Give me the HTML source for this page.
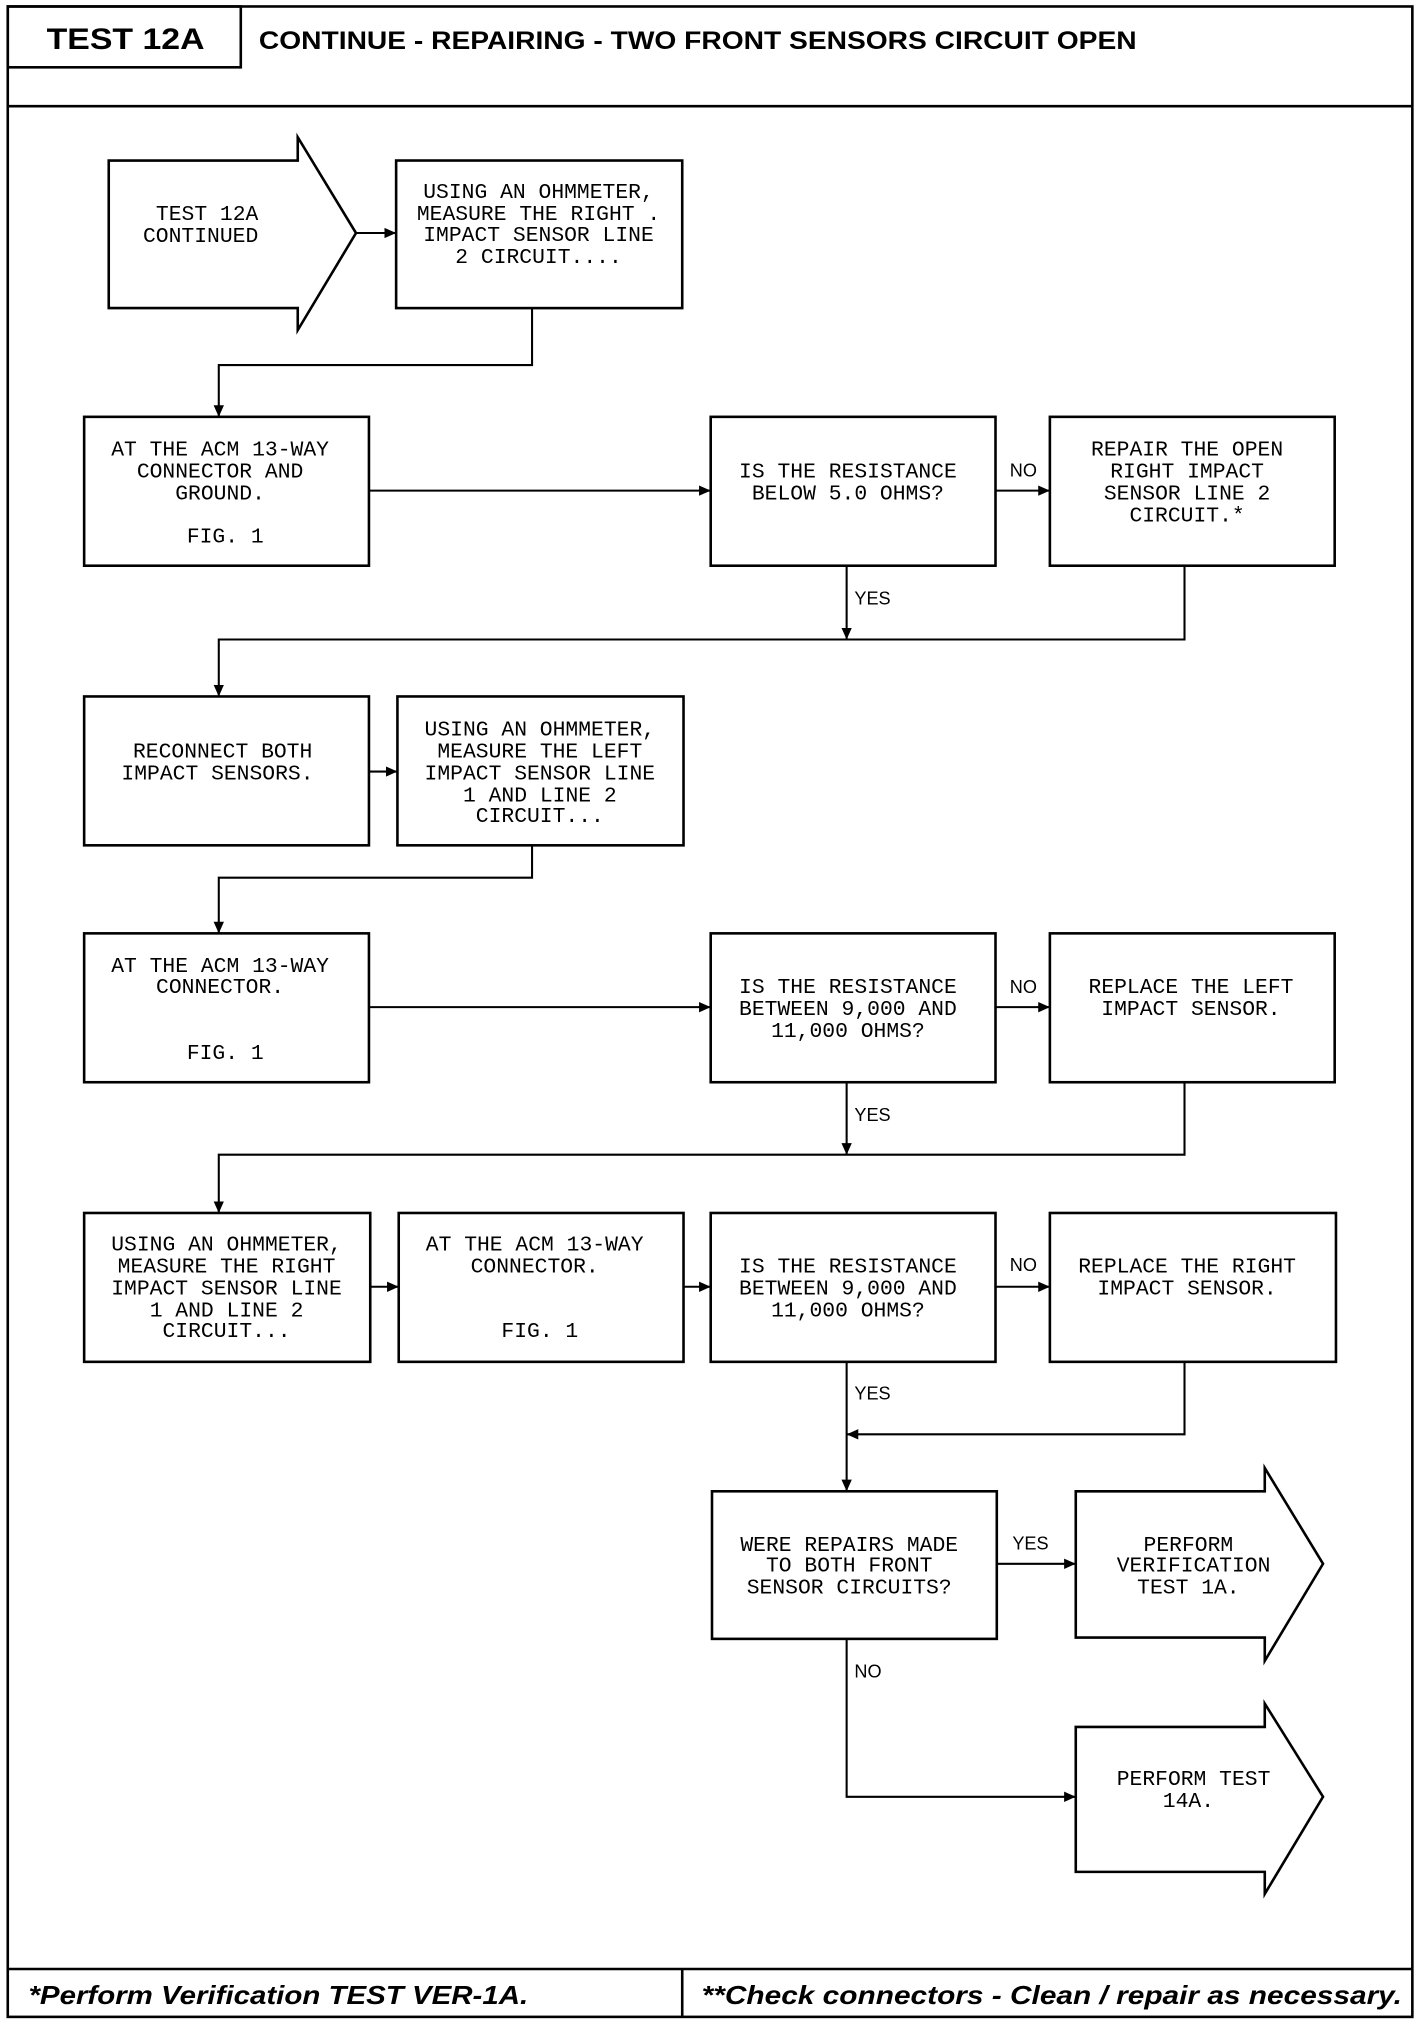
<!DOCTYPE html>
<html><head><meta charset="utf-8"><style>
html,body{margin:0;padding:0;background:#fff}
svg{display:block}
.t{font-family:"Liberation Mono",monospace;font-size:16.5px;text-anchor:middle;fill:#000}
.l{font-family:"Liberation Sans",sans-serif;font-size:14px;fill:#000}
</style></head><body>
<svg width="1424" height="2024" viewBox="0 0 1100 1563.5" preserveAspectRatio="none" xmlns="http://www.w3.org/2000/svg">
<defs><marker id="a" markerWidth="10" markerHeight="10" refX="9" refY="5" orient="auto" markerUnits="userSpaceOnUse"><path d="M0,1 L9,5 L0,9 Z" fill="#000"/></marker></defs>
<g fill="none" stroke="#000" stroke-width="2">
<rect x="6" y="5" width="1085" height="1553"/>
<rect x="6" y="5" width="180" height="47"/>
<line x1="6" y1="82" x2="1091" y2="82"/>
<line x1="6" y1="1521" x2="1091" y2="1521"/>
<line x1="527" y1="1521" x2="527" y2="1558"/>
<polygon points="84,124 230,124 230,106 275,180 230,255 230,238 84,238"/>
<rect x="306" y="124" width="221" height="114"/>
<rect x="65" y="322" width="220" height="115"/>
<rect x="549" y="322" width="220" height="115"/>
<rect x="811" y="322" width="220" height="115"/>
<rect x="65" y="538" width="220" height="115"/>
<rect x="307" y="538" width="221" height="115"/>
<rect x="65" y="721" width="220" height="115"/>
<rect x="549" y="721" width="220" height="115"/>
<rect x="811" y="721" width="220" height="115"/>
<rect x="65" y="937" width="221" height="115"/>
<rect x="308" y="937" width="220" height="115"/>
<rect x="549" y="937" width="220" height="115"/>
<rect x="811" y="937" width="221" height="115"/>
<rect x="550" y="1152" width="220" height="114"/>
<polygon points="831,1152 977,1152 977,1134 1022,1208 977,1283 977,1265 831,1265"/>
<polygon points="831,1334 977,1334 977,1316 1022,1388 977,1463 977,1446 831,1446"/>
</g>
<g fill="none" stroke="#000" stroke-width="1.6" marker-end="url(#a)">
<line x1="275" y1="180" x2="306" y2="180"/>
<polyline points="411,238 411,282 169,282 169,322"/>
<line x1="285" y1="379" x2="549" y2="379"/>
<line x1="769" y1="379" x2="811" y2="379"/>
<line x1="654" y1="437" x2="654" y2="494"/>
<polyline points="915,437 915,494 169,494 169,538"/>
<line x1="285" y1="596" x2="307" y2="596"/>
<polyline points="411,653 411,678 169,678 169,721"/>
<line x1="285" y1="778" x2="549" y2="778"/>
<line x1="769" y1="778" x2="811" y2="778"/>
<line x1="654" y1="836" x2="654" y2="892"/>
<polyline points="915,836 915,892 169,892 169,937"/>
<line x1="286" y1="994" x2="308" y2="994"/>
<line x1="528" y1="994" x2="549" y2="994"/>
<line x1="769" y1="994" x2="811" y2="994"/>
<line x1="654" y1="1052" x2="654" y2="1152"/>
<polyline points="915,1052 915,1108 654,1108"/>
<line x1="770" y1="1208" x2="831" y2="1208"/>
<polyline points="654,1266 654,1388 831,1388"/>
</g>
<text x="36" y="38" font-family="Liberation Sans,sans-serif" font-weight="bold" font-size="23" textLength="122" lengthAdjust="spacingAndGlyphs">TEST 12A</text>
<text x="200" y="38" font-family="Liberation Sans,sans-serif" font-weight="bold" font-size="19" textLength="678" lengthAdjust="spacingAndGlyphs">CONTINUE - REPAIRING - TWO FRONT SENSORS CIRCUIT OPEN</text>
<text x="22" y="1548" font-family="Liberation Sans,sans-serif" font-weight="bold" font-style="italic" font-size="20" textLength="386" lengthAdjust="spacingAndGlyphs">*Perform Verification TEST VER-1A.</text>
<text x="542" y="1548" font-family="Liberation Sans,sans-serif" font-weight="bold" font-style="italic" font-size="20" textLength="541" lengthAdjust="spacingAndGlyphs">**Check connectors - Clean / repair as necessary.</text>
<g class="t">
<text x="160" y="170">TEST 12A</text><text x="155" y="187">CONTINUED</text>
<text x="416" y="153">USING AN OHMMETER,</text><text x="416" y="170">MEASURE THE RIGHT .</text><text x="416" y="186">IMPACT SENSOR LINE</text><text x="416" y="203">2 CIRCUIT....</text>
<text x="170" y="352">AT THE ACM 13-WAY</text><text x="170" y="369">CONNECTOR AND</text><text x="170" y="386">GROUND.</text><text x="174" y="419">FIG. 1</text>
<text x="655" y="369">IS THE RESISTANCE</text><text x="655" y="386">BELOW 5.0 OHMS?</text>
<text x="917" y="352">REPAIR THE OPEN</text><text x="917" y="369">RIGHT IMPACT</text><text x="917" y="386">SENSOR LINE 2</text><text x="917" y="403">CIRCUIT.*</text>
<text x="172" y="585">RECONNECT BOTH</text><text x="168" y="602">IMPACT SENSORS.</text>
<text x="417" y="568">USING AN OHMMETER,</text><text x="417" y="585">MEASURE THE LEFT</text><text x="417" y="602">IMPACT SENSOR LINE</text><text x="417" y="619">1 AND LINE 2</text><text x="417" y="635">CIRCUIT...</text>
<text x="170" y="751">AT THE ACM 13-WAY</text><text x="170" y="767">CONNECTOR.</text><text x="174" y="818">FIG. 1</text>
<text x="655" y="767">IS THE RESISTANCE</text><text x="655" y="784">BETWEEN 9,000 AND</text><text x="655" y="801">11,000 OHMS?</text>
<text x="920" y="767">REPLACE THE LEFT</text><text x="920" y="784">IMPACT SENSOR.</text>
<text x="175" y="966">USING AN OHMMETER,</text><text x="175" y="983">MEASURE THE RIGHT</text><text x="175" y="1000">IMPACT SENSOR LINE</text><text x="175" y="1017">1 AND LINE 2</text><text x="175" y="1033">CIRCUIT...</text>
<text x="413" y="966">AT THE ACM 13-WAY</text><text x="413" y="983">CONNECTOR.</text><text x="417" y="1033">FIG. 1</text>
<text x="655" y="983">IS THE RESISTANCE</text><text x="655" y="1000">BETWEEN 9,000 AND</text><text x="655" y="1017">11,000 OHMS?</text>
<text x="917" y="983">REPLACE THE RIGHT</text><text x="917" y="1000">IMPACT SENSOR.</text>
<text x="656" y="1198">WERE REPAIRS MADE</text><text x="656" y="1214">TO BOTH FRONT</text><text x="656" y="1231">SENSOR CIRCUITS?</text>
<text x="918" y="1198">PERFORM</text><text x="922" y="1214">VERIFICATION</text><text x="918" y="1231">TEST 1A.</text>
<text x="922" y="1379">PERFORM TEST</text><text x="918" y="1396">14A.</text>
</g>
<g class="l">
<text x="780" y="368">NO</text><text x="660" y="467">YES</text>
<text x="780" y="767">NO</text><text x="660" y="866">YES</text>
<text x="780" y="982">NO</text><text x="660" y="1081">YES</text>
<text x="782" y="1197">YES</text><text x="660" y="1296">NO</text>
</g>
</svg>
</body></html>
